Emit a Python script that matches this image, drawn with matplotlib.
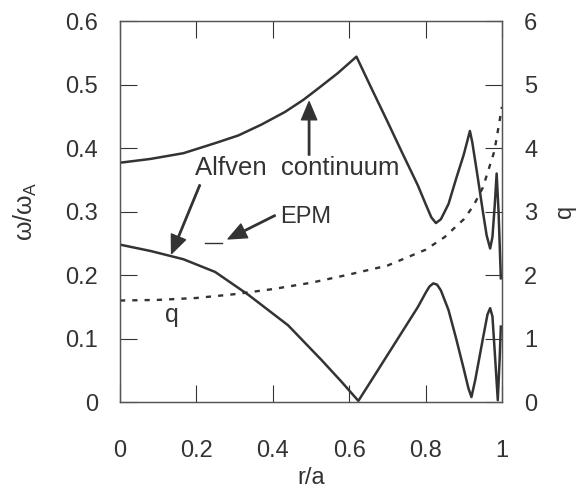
import matplotlib
matplotlib.use('Agg')
import matplotlib.pyplot as plt

plt.rcParams['font.family'] = ['Liberation Sans', 'DejaVu Sans']
plt.rcParams['mathtext.fontset'] = 'custom'
plt.rcParams['mathtext.rm'] = 'Liberation Sans'
plt.rcParams['mathtext.it'] = 'Liberation Sans'

# upper branch of the Alfven continuum
r_up = [0, 0.08, 0.166, 0.25, 0.31, 0.37, 0.432, 0.48, 0.519, 0.57, 0.619,
        0.66, 0.70, 0.74, 0.78, 0.80, 0.815, 0.827, 0.84, 0.86, 0.88, 0.90,
        0.91, 0.916, 0.922, 0.935, 0.95, 0.96, 0.969, 0.975, 0.981, 0.986,
        0.991, 0.997]
w_up = [0.377, 0.383, 0.392, 0.408, 0.42, 0.437, 0.457, 0.476, 0.494, 0.518, 0.544,
        0.492, 0.442, 0.391, 0.341, 0.312, 0.291, 0.282, 0.288, 0.312, 0.352, 0.39,
        0.413, 0.427, 0.41, 0.36, 0.30, 0.262, 0.242, 0.26, 0.31, 0.36,
        0.30, 0.195]

# lower branch of the Alfven continuum
r_lo = [0, 0.08, 0.166, 0.249, 0.336, 0.44, 0.528, 0.58, 0.624, 0.66, 0.70,
        0.74, 0.78, 0.80, 0.81, 0.82, 0.83, 0.84, 0.86, 0.88, 0.90, 0.912,
        0.92, 0.93, 0.95, 0.962, 0.969, 0.975, 0.982, 0.989, 0.994, 0.997]
w_lo = [0.248, 0.238, 0.225, 0.205, 0.169, 0.121, 0.066, 0.032, 0.002, 0.036, 0.074,
        0.112, 0.15, 0.172, 0.182, 0.187, 0.185, 0.176, 0.145, 0.10, 0.052, 0.022,
        0.008, 0.035, 0.10, 0.138, 0.148, 0.135, 0.07, 0.003, 0.07, 0.119]

# safety factor q (right axis)
r_q = [0, 0.1, 0.2, 0.3, 0.4, 0.5, 0.6, 0.7, 0.8, 0.85, 0.9, 0.925, 0.95, 0.98, 1.0]
q = [1.60, 1.61, 1.64, 1.70, 1.78, 1.88, 2.01, 2.15, 2.40, 2.60, 2.88, 3.09, 3.38, 3.95, 4.65]

# EPM frequency
r_epm = [0.223, 0.266]
w_epm = [0.25, 0.25]

xt = [0, 0.2, 0.4, 0.6, 0.8, 1]
xtl = ['0', '0.2', '0.4', '0.6', '0.8', '1']
yt = [0, 0.1, 0.2, 0.3, 0.4, 0.5, 0.6]
ytl = ['0', '0.1', '0.2', '0.3', '0.4', '0.5', '0.6']
qt = [0, 1, 2, 3, 4, 5, 6]

c = '#333333'
fig = plt.figure(figsize=(5.77, 4.91), dpi=100)
ax = fig.add_axes([0.208, 0.181, 0.662, 0.776])
ax.plot(r_up, w_up, color=c, lw=1.8)
ax.plot(r_lo, w_lo, color=c, lw=1.8)
ax.plot(r_epm, w_epm, color=c, lw=1.0)
ax.set_xlim(0, 1)
ax.set_ylim(0, 0.6)
ax.set_xticks(xt)
ax.set_xticklabels(xtl)
ax.set_yticks(yt)
ax.set_yticklabels(ytl)
ax.tick_params(direction='in', length=12, width=0.8, labelsize=17, pad=16, top=True, colors=c)
ax.tick_params(axis='x', pad=27)
ax.set_xlabel('r/a', fontsize=17, labelpad=4, color=c)
ax.set_ylabel(r'$\omega/\omega_\mathregular{A}$', fontsize=18, labelpad=19, color=c)

ax2 = ax.twinx()
ax2.plot(r_q, q, color=c, lw=1.7, ls=(0, (2.2, 3)))
ax2.set_ylim(0, 6)
ax2.set_yticks(qt)
ax2.tick_params(direction='in', length=12, width=0.8, labelsize=17, pad=16, colors=c)
ax2.set_ylabel('q', fontsize=17, labelpad=12, color=c)

for a in (ax, ax2):
    for s in a.spines.values():
        s.set_color('#555555')
        s.set_linewidth(0.9)

arr = dict(facecolor=c, edgecolor=c, width=1.0, headwidth=11, headlength=13, shrink=0)
ax.annotate('', xy=(0.495, 0.473), xytext=(0.495, 0.389), arrowprops=arr)
ax.annotate('', xy=(0.135, 0.234), xytext=(0.209, 0.342), arrowprops=arr)
ax.annotate('', xy=(0.283, 0.257), xytext=(0.406, 0.294), arrowprops=arr)
ax.text(0.196, 0.369, 'Alfven  continuum', fontsize=18.5, va='center', color=c)
ax.text(0.42, 0.292, 'EPM', fontsize=17, va='center', color=c)
ax.text(0.136, 0.137, 'q', fontsize=18, va='center', ha='center', color=c)

fig.savefig('out.png', dpi=100)
